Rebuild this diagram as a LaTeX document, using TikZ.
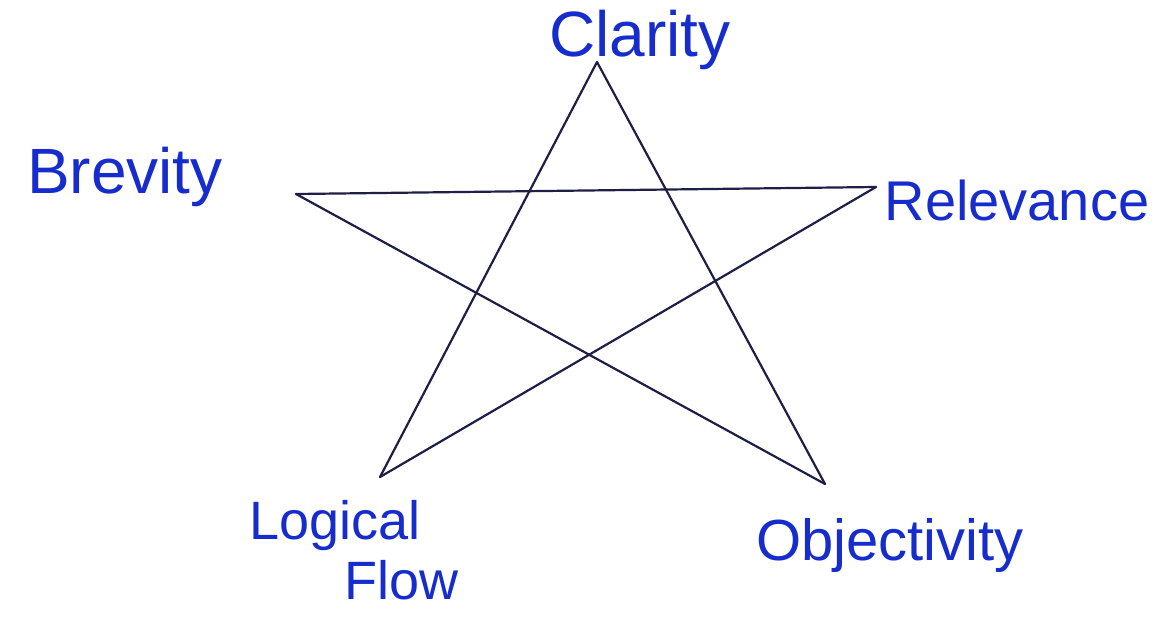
\documentclass[tikz,border=0pt]{standalone}
\usepackage{fontspec}
\setmainfont{Liberation Sans}
\definecolor{ink}{RGB}{22,44,205}
\definecolor{pen}{RGB}{30,30,70}
\begin{document}
\begin{tikzpicture}[x=1pt,y=-1pt,
  lbl/.style={text=ink,font=\fontsize{58}{64}\selectfont,inner sep=0pt},
  edge/.style={draw=pen,line width=2.2pt,line join=round,line cap=round}]
\useasboundingbox[fill=white] (0,0) rectangle (1159,623);
\coordinate (T) at (597,62);
\coordinate (L) at (296,194);
\coordinate (R) at (876,187);
\coordinate (BL) at (380,477);
\coordinate (BR) at (825,484);
\draw[edge] (T) -- (BL);
\draw[edge] (T) -- (BR);
\draw[edge] (L) -- (R);
\draw[edge] (L) -- (BR);
\draw[edge] (R) -- (BL);
\node[lbl,font=\fontsize{64}{70}\selectfont] (clarity) at (640,40) {Clarity};
\node[lbl,font=\fontsize{64}{70}\selectfont] (brevity) at (125,177) {Brevity};
\node[lbl,font=\fontsize{56}{62}\selectfont] (relevance) at (1017,200) {Relevance};
\node[lbl,align=left,font=\fontsize{54}{60}\selectfont] (logical) at (354,550) {Logical\\\hspace*{95pt}Flow};
\node[lbl] (objectivity) at (890,545) {Objectivity};
\end{tikzpicture}
\end{document}
